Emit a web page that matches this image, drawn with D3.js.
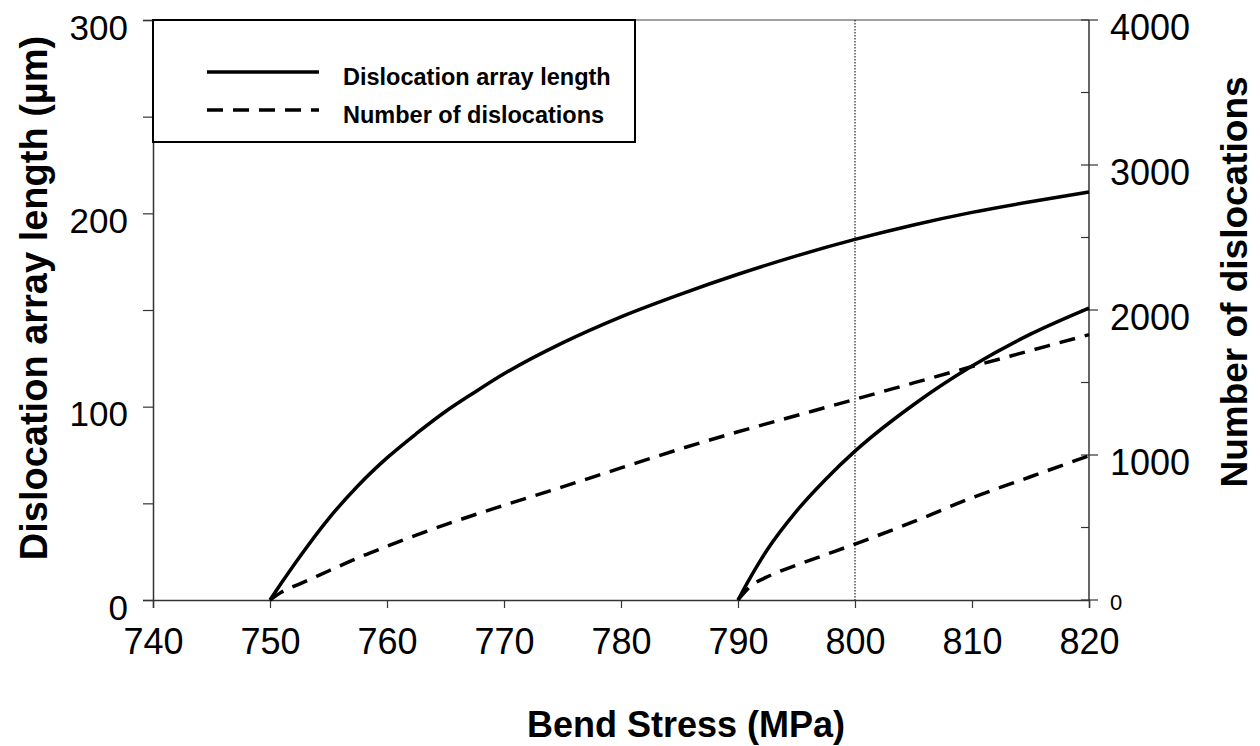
<!DOCTYPE html>
<html>
<head>
<style>
  body { margin: 0; background: #fff; }
  text { font-family: "Liberation Sans", Arial, sans-serif; }
</style>
</head>
<body>
<svg width="1260" height="746"></svg>
<script src="https://cdn.jsdelivr.net/npm/d3@7/dist/d3.min.js"></script>
<script>

// first pair of curves (onset at 750 MPa)
var stress1 = [750, 751, 752.5, 755, 757.5, 760, 762.5, 765, 767.5, 770, 775, 780, 785, 790, 795, 800, 805, 810, 815, 820];
var length1 = [0, 9, 22, 42, 59, 73.5, 86, 97.5, 107.5, 117, 133, 146.5, 158, 168.5, 178, 186.5, 194, 200.5, 206, 211];
var count1  = [0, 55, 110, 200, 290, 370, 447, 520, 588, 653, 780, 911, 1040, 1160, 1272, 1384, 1497, 1610, 1720, 1830];

// second pair (onset at 790 MPa)
var stress2 = [790, 791, 792.5, 795, 797.5, 800, 805, 810, 815, 820];
var length2 = [0, 11, 26, 46, 62.5, 77, 101, 121, 137.5, 151];
var count2  = [0, 90, 160, 240, 313, 386, 540, 705, 850, 995];

var xTicks = [740, 750, 760, 770, 780, 790, 800, 810, 820];
var leftTicks = [0, 100, 200, 300];
var leftMinor = [50, 150, 250];
var rightTicks = [0, 1000, 2000, 3000, 4000];
var rightMinor = [500, 1500, 2500, 3500];
var markerStress = 800;

var legendItems = [
    { label: "Dislocation array length", dash: null },
    { label: "Number of dislocations", dash: "16,10" }
];

var svg = d3.select("svg"),
    margin = { top: 20, right: 171, bottom: 146, left: 153 },
    width = +svg.attr("width") - margin.left - margin.right,
    height = +svg.attr("height") - margin.top - margin.bottom,
    g = svg.append("g").attr("transform", "translate(" + margin.left + "," + margin.top + ")");

var x = d3.scaleLinear().domain([740, 820]).range([0, width]);
var yL = d3.scaleLinear().domain([0, 300]).range([height, 0]);
var yR = d3.scaleLinear().domain([0, 4000]).range([height, 0]);

function pairs(xs, ys) {
    return xs.map(function (v, i) { return [v, ys[i]]; });
}

var lineL = d3.line().curve(d3.curveMonotoneX)
    .x(function (d) { return x(d[0]); })
    .y(function (d) { return yL(d[1]); });
var lineR = d3.line().curve(d3.curveMonotoneX)
    .x(function (d) { return x(d[0]); })
    .y(function (d) { return yR(d[1]); });

var axisColor = "#333";

// top frame line
g.append("line").attr("x1", 0).attr("x2", width).attr("y1", 0).attr("y2", 0)
    .attr("stroke", "#808080").attr("stroke-width", 1.5);

// vertical dotted line at 800 MPa
g.append("line")
    .attr("x1", x(markerStress)).attr("x2", x(markerStress))
    .attr("y1", 0).attr("y2", height)
    .attr("stroke", "#222").attr("stroke-width", 1.2)
    .attr("stroke-dasharray", "1.5,1.5");

// bottom axis
var xAxis = g.append("g")
    .attr("transform", "translate(0," + height + ")")
    .call(d3.axisBottom(x).tickValues(xTicks).tickSize(8).tickPadding(20).tickFormat(d3.format("d")));
xAxis.select(".domain").attr("stroke", axisColor).attr("stroke-width", 1.5);
xAxis.selectAll(".tick line").attr("stroke", axisColor).attr("stroke-width", 1.2);
xAxis.selectAll(".tick text").attr("font-size", 36).attr("fill", "#000")
    .attr("font-family", "Liberation Sans, Arial, sans-serif").attr("dy", "0.71em");

// left axis
var yAxisL = g.append("g")
    .call(d3.axisLeft(yL).tickValues(leftTicks.concat(leftMinor)).tickSize(10).tickPadding(15)
        .tickFormat(function (d) { return leftTicks.indexOf(d) >= 0 ? d : ""; }));
yAxisL.select(".domain").attr("stroke", axisColor).attr("stroke-width", 1.5);
yAxisL.selectAll(".tick line").attr("stroke", axisColor).attr("stroke-width", 1.2);
yAxisL.selectAll(".tick text").attr("font-size", 35).attr("fill", "#000")
    .attr("font-family", "Liberation Sans, Arial, sans-serif").attr("dy", "0.55em");

// right axis
var yAxisR = g.append("g").attr("transform", "translate(" + width + ",0)");
yAxisR.append("line").attr("x1", 0).attr("x2", 0).attr("y1", 0).attr("y2", height)
    .attr("stroke", axisColor).attr("stroke-width", 1.5);
yAxisR.selectAll(".major").data(rightTicks).enter().append("line")
    .attr("x1", -8).attr("x2", 9)
    .attr("y1", function (d) { return yR(d); }).attr("y2", function (d) { return yR(d); })
    .attr("stroke", axisColor).attr("stroke-width", 1.2);
yAxisR.selectAll(".minor").data(rightMinor).enter().append("line")
    .attr("x1", -8).attr("x2", 0)
    .attr("y1", function (d) { return yR(d); }).attr("y2", function (d) { return yR(d); })
    .attr("stroke", axisColor).attr("stroke-width", 1.2);
yAxisR.selectAll(".lab").data(rightTicks).enter().append("text")
    .attr("x", 21)
    .attr("y", function (d) { return yR(d); })
    .attr("dy", function (d) { return d === 0 ? "0.45em" : "0.55em"; })
    .attr("font-size", function (d) { return d === 0 ? 22 : 36; })
    .text(function (d) { return d; });

// curves
var curves = [
    { data: pairs(stress1, length1), line: lineL, dash: null },
    { data: pairs(stress1, count1), line: lineR, dash: "16,10" },
    { data: pairs(stress2, length2), line: lineL, dash: null },
    { data: pairs(stress2, count2), line: lineR, dash: "16,10" }
];
curves.forEach(function (c) {
    g.append("path")
        .datum(c.data)
        .attr("fill", "none")
        .attr("stroke", "#000")
        .attr("stroke-width", 3.5)
        .attr("stroke-linejoin", "round")
        .attr("stroke-dasharray", c.dash)
        .attr("d", c.line);
});

// legend
var legend = g.append("g");
legend.append("rect")
    .attr("x", 0).attr("y", 0).attr("width", 482).attr("height", 122)
    .attr("fill", "#fff").attr("stroke", "#000").attr("stroke-width", 2);
legendItems.forEach(function (item, i) {
    var yy = 52 + i * 38;
    legend.append("line")
        .attr("x1", 54).attr("x2", 166).attr("y1", yy).attr("y2", yy)
        .attr("stroke", "#000").attr("stroke-width", 3.5)
        .attr("stroke-dasharray", item.dash);
    legend.append("text")
        .attr("x", 190).attr("y", yy + 13)
        .attr("font-size", 23.5).attr("font-weight", "bold")
        .text(item.label);
});

// axis titles
svg.append("text")
    .attr("x", 686).attr("y", 737)
    .attr("text-anchor", "middle")
    .attr("font-size", 36).attr("font-weight", "bold")
    .text("Bend Stress (MPa)");

svg.append("text")
    .attr("transform", "translate(47,298) rotate(-90)")
    .attr("text-anchor", "middle")
    .attr("font-size", 38).attr("font-weight", "bold")
    .text("Dislocation array length (\u00b5m)");

svg.append("text")
    .attr("transform", "translate(1247,282) rotate(-90)")
    .attr("text-anchor", "middle")
    .attr("font-size", 37).attr("font-weight", "bold")
    .text("Number of dislocations");

</script>
</body>
</html>
